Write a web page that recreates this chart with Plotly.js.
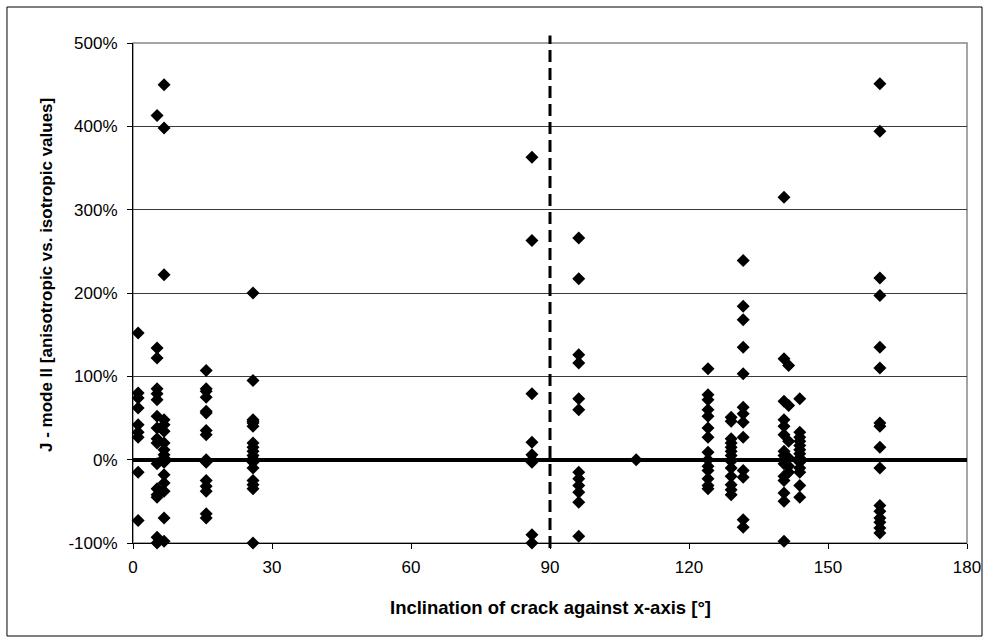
<!DOCTYPE html>
<html>
<head>
<meta charset="utf-8">
<script src="https://cdn.plot.ly/plotly-3.0.1.min.js"></script>
<style>html,body{margin:0;padding:0;background:#fff;}#chart{width:990px;height:637px;}</style>
</head>
<body>
<div id="chart"></div>
<script>
// Crack inclination (degrees) of each group of results
const clusterAngles = [1.1, 5.2, 6.7, 15.8, 25.9, 86.1, 96.2, 108.6, 124.1, 129.1, 131.7, 140.5, 141.5, 143.9, 161.2];
// J - mode II, anisotropic vs. isotropic (%), one list per angle above
const clusterValues = [
  [152, 80, 74, 62, 42, 33, 27, -15, -73],
  [413, 134, 122, 85, 79, 72, 52, 38, 25, 20, -5, -35, -42, -45, -93, -100],
  [450, 398, 222, 48, 42, 34, 20, 12, 6, 2, -3, -18, -28, -38, -70, -98],
  [107, 85, 82, 75, 58, 56, 35, 30, 0, -3, -25, -32, -38, -65, -70],
  [200, 95, 48, 46, 44, 40, 20, 15, 10, 5, 1, -3, -10, -25, -30, -35, -100],
  [363, 263, 79, 21, 6, 0, -3, -90, -100],
  [266, 217, 126, 116, 73, 60, -15, -23, -31, -39, -51, -92],
  [0],
  [109, 78, 72, 60, 52, 38, 27, 9, 0, -8, -13, -23, -31, -35],
  [51, 46, 25, 20, 15, 10, 5, -2, -10, -20, -30, -36, -42],
  [239, 184, 168, 135, 103, 63, 55, 45, 27, -13, -21, -72, -81],
  [315, 121, 70, 48, 40, 30, 10, 5, 0, -5, -20, -25, -40, -50, -98],
  [113, 65, 22, 2, -8, -15],
  [73, 33, 27, 22, 17, 12, 7, 2, -3, -10, -15, -31, -45],
  [451, 394, 218, 197, 135, 110, 44, 40, 15, -10, -55, -62, -70, -75, -82, -88]
];
const xTickVals = [0, 30, 60, 90, 120, 150, 180];
const yTickVals = [-100, 0, 100, 200, 300, 400, 500];
const yTickText = ['-100%', '0%', '100%', '200%', '300%', '400%', '500%'];
const xTitle = 'Inclination of crack against x-axis [°]';
const yTitle = 'J - mode II [anisotropic vs. isotropic values]';
const isotropicBoundary = 90;

const xs = [], ys = [];
clusterAngles.forEach((a, i) => {
  clusterValues[i].forEach(v => { xs.push(a); ys.push(v); });
});

const fam = 'Liberation Sans, Arial, sans-serif';
const tickFont = {family: fam, size: 17, color: '#000'};

const trace = {
  type: 'scatter', mode: 'markers', x: xs, y: ys,
  marker: {symbol: 'diamond', size: 10, color: '#000', line: {width: 0}},
  hoverinfo: 'x+y', showlegend: false, cliponaxis: false
};

const layout = {
  width: 990, height: 637,
  margin: {l: 133, r: 23, t: 43, b: 94},
  paper_bgcolor: '#fff', plot_bgcolor: '#fff',
  font: tickFont,
  showlegend: false,
  xaxis: {
    range: [0, 180], tickvals: xTickVals, ticktext: xTickVals.map(String),
    ticks: 'outside', ticklen: 5, tickcolor: '#000', tickwidth: 1,
    ticklabelstandoff: 4,
    showline: true, linecolor: '#000', linewidth: 1, mirror: false,
    showgrid: false, zeroline: false,
    tickfont: tickFont
  },
  yaxis: {
    range: [-100, 500], tickvals: yTickVals, ticktext: yTickText,
    ticks: 'outside', ticklen: 5, tickcolor: '#000', tickwidth: 1,
    ticklabelstandoff: 6,
    showline: true, linecolor: '#000', linewidth: 1,
    showgrid: true, gridcolor: '#3a3a3a', gridwidth: 1,
    zeroline: true, zerolinecolor: '#000', zerolinewidth: 4,
    tickfont: tickFont
  },
  annotations: [
    {text: '<b>' + xTitle + '</b>', xref: 'paper', yref: 'paper', x: 0.5, y: -0.128,
     xanchor: 'center', yanchor: 'middle', showarrow: false, font: {family: fam, size: 18.5, color: '#000'}},
    {text: '<b>' + yTitle + '</b>', xref: 'paper', yref: 'paper', x: -0.1043, y: 0.536, textangle: -90,
     xanchor: 'center', yanchor: 'middle', showarrow: false, font: {family: fam, size: 17, color: '#000'}}
  ],
  shapes: [
    {type: 'rect', xref: 'paper', yref: 'paper', x0: 0, x1: 1, y0: 0, y1: 1, line: {color: '#888', width: 1.5}, layer: 'below'},
    {type: 'line', xref: 'x', yref: 'paper', x0: isotropicBoundary, x1: isotropicBoundary, y0: -0.01, y1: 1.015, line: {color: '#000', width: 3, dash: '12px,6px'}},
    {type: 'rect', xref: 'paper', yref: 'paper', x0: -0.1511, x1: 1.018, y0: -0.186, y1: 1.072, line: {color: '#000', width: 1}}
  ]
};

Plotly.newPlot('chart', [trace], layout, {displayModeBar: false, staticPlot: true});
</script>
</body>
</html>
